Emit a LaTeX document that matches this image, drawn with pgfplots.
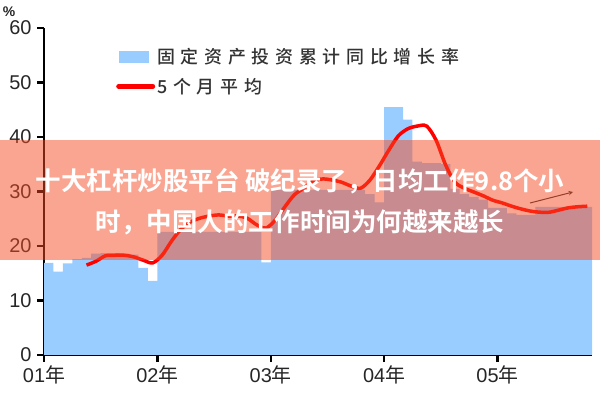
\documentclass[border=0pt]{standalone}
\usepackage{pgfplots}
\pgfplotsset{compat=1.18}
\usepackage{fontspec}
\setmainfont{Liberation Sans}
\newfontfamily\cjk{Noto Sans CJK SC}
\newfontfamily\cjkls[LetterSpace=32]{Noto Sans CJK SC Medium}
\newfontfamily\cjkb[BoldFont={Noto Sans CJK SC Bold}]{Noto Sans CJK SC}
\definecolor{barblue}{RGB}{153,204,255}
\definecolor{banner}{RGB}{245,75,35}
\definecolor{lineRed}{RGB}{255,0,0}
\begin{document}
\begin{tikzpicture}
\useasboundingbox (0,0) rectangle (600bp,400bp);
\begin{axis}[
  at={(44bp,45bp)}, anchor=south west, scale only axis,
  width=548bp, height=327bp,
  xmin=0, xmax=58, ymin=0, ymax=60,
  axis x line*=bottom, axis y line*=left,
  axis line style={line width=2.5bp, black},
  tick align=outside, major tick length=7bp,
  tick style={line width=2.5bp, black},
  xtick={0,12,24,36,48},
  xticklabels={01{\cjk 年},02{\cjk 年},03{\cjk 年},04{\cjk 年},05{\cjk 年}},
  ytick={0,10,20,30,40,50,60},
  /pgf/number format/assume math mode=true,
  tick label style={font=\fontsize{20}{22}\selectfont, text=black!85},
  yticklabel style={xshift=-2bp},
  legend style={at={(0.126,0.951)}, anchor=north west, draw=none, fill=none,
    font=\cjkls\fontsize{18}{20}\selectfont, text=black!80, row sep=9bp},
  legend cell align=left,
]
\addplot[const plot, fill=barblue, draw=none,
  legend image code/.code={\fill[barblue] (0bp,-6bp) rectangle (30bp,6bp);}]
coordinates {
(0,16.9) (1,15.3) (2,16.8) (3,17.6) (4,17.8) (5,18.6) (6,18.7) (7,18.7) (8,18.6) (9,18.4) (10,16.0) (11,13.6)
(12,22.6) (13,22.6) (14,22.6) (15,22.6) (16,22.6) (17,22.6) (18,22.6) (19,22.6) (20,22.6) (21,22.6) (22,22.6) (23,17.0)
(24,30.3) (25,30.3) (26,30.3) (27,30.3) (28,30.3) (29,30.3) (30,30.3) (31,30.3) (32,30.3) (33,30.3) (34,29.5) (35,28.0)
(36,45.5) (37,45.5) (38,43.2) (39,35.5) (40,35.2) (41,35.2) (42,35.0) (43,30.5) (44,29.5) (45,29.0) (46,28.5) (47,27.0)
(48,27.0) (49,26.0) (50,25.7) (51,25.7) (52,27.2) (53,27.2) (54,27.2) (55,27.2) (56,27.2) (57,27.2) (58,27.2)
} \closedcycle;
\addlegendentry{固定资产投资累计同比增长率}
\addplot[lineRed, line width=3.5bp, smooth, tension=0.5,
  legend image code/.code={\draw[lineRed, line width=5bp, line cap=round] (0bp,0bp) -- (34bp,0bp);}]
coordinates {
(4.5,16.5) (5.5,17.2) (6.5,18.2) (7.5,18.3) (8.5,18.3) (9.5,18.0) (10.5,17.4) (11.5,16.9)
(12.5,18.3) (13.5,20.9) (14.5,23.1) (15.5,24.4) (16.5,25.1) (17.5,25.5) (18.5,25.7) (19.5,25.5)
(20.5,25.5) (21.5,25.1) (22.5,23.9) (23.5,23.3) (24.5,24.8) (25.5,27.2) (26.5,29.4) (27.5,30.6)
(28.5,31.9) (29.5,32.3) (30.5,32.1) (31.5,31.7) (32.5,31.0) (33.5,30.6) (34.5,32.1) (35.5,34.7)
(36.5,37.6) (37.5,40.2) (38.5,41.5) (39.5,42.0) (40.5,42.0) (41.5,39.4) (42.5,34.9) (43.5,31.7)
(44.5,30.6) (45.5,29.9) (46.5,29.2) (47.5,28.4) (48.5,27.9) (49.5,27.3) (50.5,26.8) (51.5,26.4)
(52.5,26.2) (53.5,26.2) (54.5,26.6) (55.5,27.0) (56.5,27.2) (57.5,27.3)
};
\addlegendentry{5个月平均}
\end{axis}
\node[font=\bfseries\fontsize{14}{15}\selectfont, text=black!85] at (9bp,388bp) {\%};
\draw[black!80, line width=1bp, -stealth] (530bp,197bp) -- (573bp,208bp);
\fill[banner, fill opacity=0.5] (0bp,140bp) rectangle (600bp,260bp);
\node[white, font=\cjkb\bfseries\fontsize{25.6}{30}\selectfont, inner sep=0pt] at (300bp,219bp) {十大杠杆炒股平台 破纪录了，日均工作9.8个小};
\node[white, font=\cjkb\bfseries\fontsize{25.6}{30}\selectfont, inner sep=0pt] at (300bp,178bp) {时，中国人的工作时间为何越来越长};
\end{tikzpicture}
\end{document}
